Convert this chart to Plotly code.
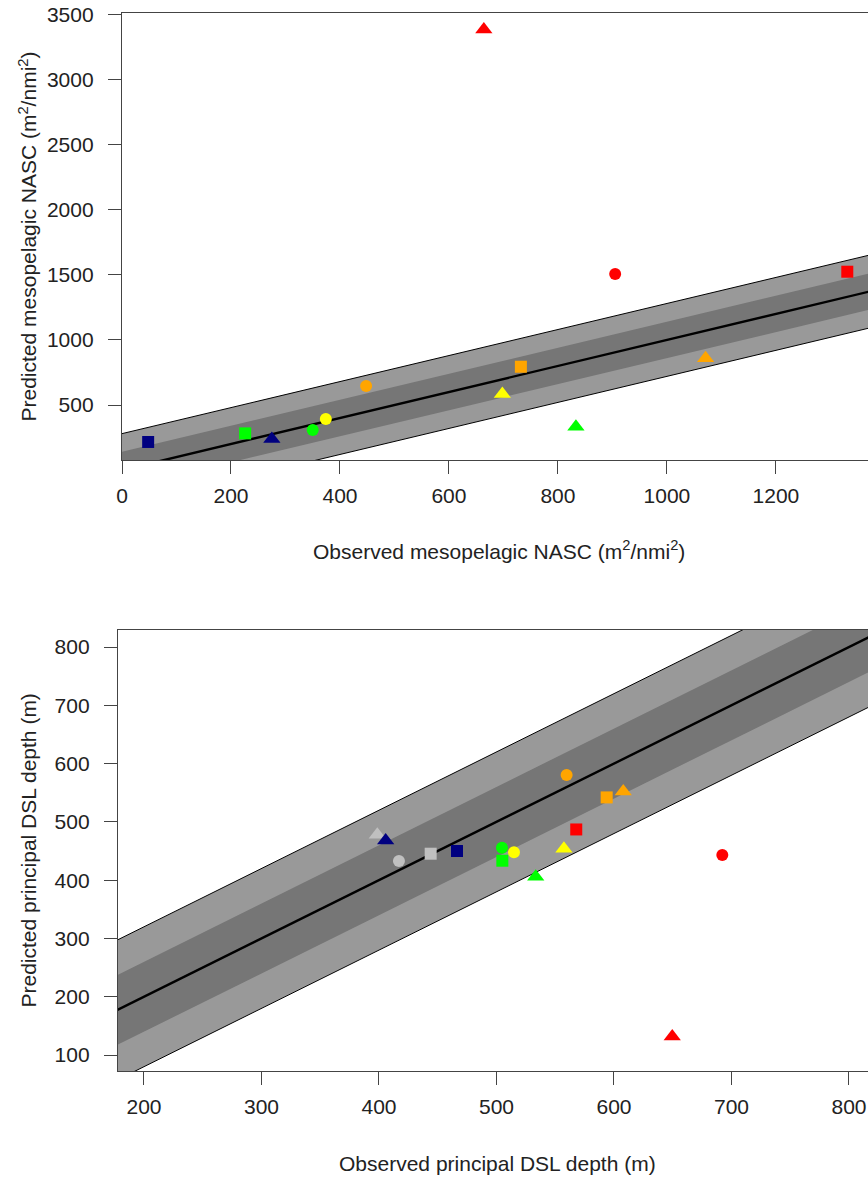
import plotly.graph_objects as go

# ---------------- data ----------------
# Top panel: mesopelagic NASC (observed vs predicted)
nasc_colors = ["#FF0000", "#FF0000", "#FF0000",
               "#FFA500", "#FFA500", "#FFA500",
               "#FFFF00", "#FFFF00",
               "#00FF00", "#00FF00", "#00FF00",
               "#000080", "#000080"]
nasc_symbols = ["circle", "square", "triangle-up",
                "circle", "square", "triangle-up",
                "circle", "triangle-up",
                "circle", "square", "triangle-up",
                "square", "triangle-up"]
nasc_observed = [905, 1331, 664,
                 448, 732, 1071,
                 374, 698,
                 350, 226, 833,
                 48, 275]
nasc_predicted = [1507, 1524, 3385,
                  646, 794, 860,
                  392, 584,
                  308, 282, 332,
                  216, 238]
nasc_band_inner = 140   # half-width of dark band
nasc_band_outer = 280   # half-width of light band
nasc_xticks = [0, 200, 400, 600, 800, 1000, 1200, 1400]
nasc_yticks = [500, 1000, 1500, 2000, 2500, 3000, 3500]
nasc_xrange = [0, 1369]
nasc_yrange = [77.5, 3511.5]

# Bottom panel: principal DSL depth (observed vs predicted)
dsl_colors = ["#C0C0C0", "#000080", "#C0C0C0", "#C0C0C0", "#000080",
              "#00FF00", "#00FF00", "#FFFF00", "#00FF00", "#FFFF00",
              "#FF0000", "#FFA500", "#FFA500", "#FFA500", "#FF0000", "#FF0000"]
dsl_symbols = ["triangle-up", "triangle-up", "circle", "square", "square",
               "circle", "square", "circle", "triangle-up", "triangle-up",
               "square", "circle", "square", "triangle-up", "circle", "triangle-up"]
dsl_observed = [398.6, 405.7, 417, 444, 466.4,
                504.7, 505, 514.9, 533.4, 557.4,
                567.9, 559.7, 593.8, 607.9, 692.2, 649.6]
dsl_predicted = [478, 468, 433, 445.4, 450,
                 455.7, 433.4, 447.8, 406, 454,
                 487, 580.4, 542, 552, 443.2, 132]
dsl_band_inner = 60
dsl_band_outer = 120
dsl_xticks = [200, 300, 400, 500, 600, 700, 800]
dsl_yticks = [100, 200, 300, 400, 500, 600, 700, 800]
dsl_xrange = [177.9, 816.2]
dsl_yrange = [72.6, 829.2]

# ---------------- figure ----------------
W, H = 868, 1180
FONT = "Liberation Sans, Arial, sans-serif"
TXT = "#222222"
AX = "#444444"
LIGHT = "#999999"
DARK = "#767676"

fig = go.Figure()


def add_panel(xa, ya, obs, pred, cols, syms, inner, outer, span):
    x0, x1 = span
    # light (outer) band
    fig.add_trace(go.Scatter(x=[x0, x1, x1, x0, x0],
                             y=[x0 + outer, x1 + outer, x1 - outer, x0 - outer, x0 + outer],
                             fill="toself", fillcolor=LIGHT, mode="lines",
                             line=dict(width=0), hoverinfo="skip", showlegend=False,
                             xaxis=xa, yaxis=ya))
    # dark (inner) band
    fig.add_trace(go.Scatter(x=[x0, x1, x1, x0, x0],
                             y=[x0 + inner, x1 + inner, x1 - inner, x0 - inner, x0 + inner],
                             fill="toself", fillcolor=DARK, mode="lines",
                             line=dict(width=0), hoverinfo="skip", showlegend=False,
                             xaxis=xa, yaxis=ya))
    # outer edge lines
    for s in (1, -1):
        fig.add_trace(go.Scatter(x=[x0, x1], y=[x0 + s * outer, x1 + s * outer],
                                 mode="lines", line=dict(color="black", width=1),
                                 hoverinfo="skip", showlegend=False, xaxis=xa, yaxis=ya))
    # 1:1 line
    fig.add_trace(go.Scatter(x=[x0, x1], y=[x0, x1], mode="lines",
                             line=dict(color="black", width=2.4),
                             hoverinfo="skip", showlegend=False, xaxis=xa, yaxis=ya))
    # points
    sizes = [15 if s == "triangle-up" else 12 for s in syms]
    fig.add_trace(go.Scatter(x=obs, y=pred, mode="markers",
                             marker=dict(color=cols, symbol=syms, size=sizes,
                                         opacity=1, line=dict(width=0)),
                             opacity=1,
                             showlegend=False, xaxis=xa, yaxis=ya, cliponaxis=False))


add_panel("x", "y", nasc_observed, nasc_predicted, nasc_colors, nasc_symbols,
          nasc_band_inner, nasc_band_outer, (-500, 2000))
add_panel("x2", "y2", dsl_observed, dsl_predicted, dsl_colors, dsl_symbols,
          dsl_band_inner, dsl_band_outer, (0, 1200))

axis_common = dict(showgrid=False, zeroline=False, ticks="outside", ticklen=13,
                   tickwidth=1.3, tickcolor=AX, showline=True, linecolor=AX,
                   linewidth=1.4, automargin=False,
                   tickfont=dict(family=FONT, size=21, color=TXT))

top_dom = [1 - 460 / H, 1 - 13 / H]
bot_dom = [1 - 1071 / H, 1 - 630 / H]

fig.update_layout(
    template="none",
    width=W, height=H,
    margin=dict(l=0, r=0, t=0, b=0, autoexpand=False),
    paper_bgcolor="white", plot_bgcolor="white",
    xaxis=dict(domain=[122 / W, 1], range=nasc_xrange, tickvals=nasc_xticks,
               anchor="y", mirror=True, ticklabelstandoff=4, **axis_common),
    yaxis=dict(domain=top_dom, range=nasc_yrange, tickvals=nasc_yticks,
               anchor="x", mirror=False, ticklabelstandoff=10, **axis_common),
    xaxis2=dict(domain=[118 / W, 1], range=dsl_xrange, tickvals=dsl_xticks,
                anchor="y2", mirror=True, ticklabelstandoff=4, **axis_common),
    yaxis2=dict(domain=bot_dom, range=dsl_yrange, tickvals=dsl_yticks,
                anchor="x2", mirror=False, ticklabelstandoff=10, **axis_common),
)

title_font = dict(family=FONT, size=21, color=TXT)
fig.add_annotation(text="Observed mesopelagic NASC (m<sup>2</sup>/nmi<sup>2</sup>)",
                   x=499 / W, y=1 - 550 / H, xref="paper", yref="paper",
                   showarrow=False, font=title_font, xanchor="center", yanchor="middle")
fig.add_annotation(text="Predicted mesopelagic NASC (m<sup>2</sup>/nmi<sup>2</sup>)",
                   x=28 / W, y=1 - 236.5 / H, xref="paper", yref="paper", textangle=-90,
                   showarrow=False, font=title_font, xanchor="center", yanchor="middle")
fig.add_annotation(text="Observed principal DSL depth (m)",
                   x=497 / W, y=1 - 1163 / H, xref="paper", yref="paper",
                   showarrow=False, font=title_font, xanchor="center", yanchor="middle")
fig.add_annotation(text="Predicted principal DSL depth (m)",
                   x=28 / W, y=1 - 850.5 / H, xref="paper", yref="paper", textangle=-90,
                   showarrow=False, font=title_font, xanchor="center", yanchor="middle")

fig.write_html("out.html")
